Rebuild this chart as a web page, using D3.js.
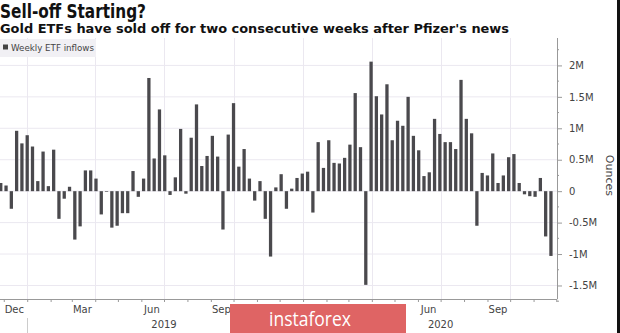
<!DOCTYPE html>
<html><head><meta charset="utf-8">
<script src="https://cdn.jsdelivr.net/npm/d3@7"></script>
<style>body{margin:0;background:#fff}svg{display:block}</style>
</head><body>
<svg id="c" width="620" height="333"></svg>
<script>
const title = "Sell-off Starting?";
const subtitle = "Gold ETFs have sold off for two consecutive weeks after Pfizer's news";
const seriesName = "Weekly ETF inflows";
const axisTitle = "Ounces";
const firstWeek = "2018-11-27";
// weekly inflows, millions of ounces
const inflows = [
  0.13, 0.09, -0.28, 0.96, 0.76, 0.89, 0.71, 0.16, 0.63, 0.08,
  0.66, -0.44, -0.12, 0.07, -0.77, -0.56, 0.33, 0.33, 0.20, -0.37,
  -0.01, -0.58, -0.55, -0.35, -0.35, 0.32, -0.09, 0.20, 1.80, 0.52,
  1.30, 0.57, -0.06, 0.22, 0.99, -0.04, 0.85, 1.38, 0.40, 0.56,
  0.88, 0.55, -0.61, 0.90, 1.40, 0.39, 0.67, 0.20, -0.15, 0.16,
  -0.44, -1.04, 0.06, 0.27, -0.28, 0.04, 0.21, 0.28, 0.31, -0.34,
  0.78, 0.37, 0.81, 0.45, 0.44, 0.53, 0.74, 1.56, 0.70, -1.49,
  2.06, 1.51, 1.22, 1.70, 0.81, 1.12, 1.04, 1.50, 0.88, 0.65,
  0.24, 0.30, 1.15, 0.91, 0.78, 0.78, 0.67, 1.77, 1.15, 0.92,
  -0.55, 0.29, 0.25, 0.60, 0.13, 0.25, 0.54, 0.59, 0.13, -0.05,
  -0.08, -0.09, 0.21, -0.72, -1.03
];
const yTicks = [-1.5, -1, -0.5, 0, 0.5, 1, 1.5, 2];
const yTickLabels = ["-1.5M", "-1M", "-0.5M", "0", "0.5M", "1M", "1.5M", "2M"];
// Dec 2019 and Mar 2020 labels are hidden under the watermark in the reference
const monthLabelDates = ["2018-12-15", "2019-03-15", "2019-06-15", "2019-09-15", "2020-06-15", "2020-09-15"];
const monthLabels = ["Dec", "Mar", "Jun", "Sep", "Jun", "Sep"];
const yearLabelDates = ["2019-07-01", "2020-07-01"];
const yearLabels = ["2019", "2020"];
const watermark = "instaforex";

const parse = d3.timeParse("%Y-%m-%d");
const start = parse(firstWeek);
const data = inflows.map((v, i) => ({date: d3.timeDay.offset(start, 7 * i), value: v}));

const svg = d3.select("#c");
const plotL = 0, plotR = 557, plotT = 38, plotB = 299;

const x = d3.scaleTime().domain([parse("2018-11-26"), parse("2020-12-02")]).range([plotL, plotR]);
const y = d3.scaleLinear().domain([-1.715, 2.436]).range([plotB, plotT]);

const font = "'DejaVu Sans', sans-serif";

// Title
svg.append("text").attr("x", 0).attr("y", 18).text(title)
  .attr("font-family", font).attr("font-weight", "bold").attr("font-size", 19)
  .attr("fill", "#111").attr("textLength", 146).attr("lengthAdjust", "spacingAndGlyphs");
svg.append("text").attr("x", 0).attr("y", 33).text(subtitle)
  .attr("font-family", font).attr("font-weight", "bold").attr("font-size", 13)
  .attr("fill", "#111").attr("textLength", 509).attr("lengthAdjust", "spacingAndGlyphs");

// Grid
const grid = svg.append("g");
grid.selectAll("line.h").data(yTicks).join("line")
  .attr("x1", plotL).attr("x2", plotR).attr("y1", d => y(d)).attr("y2", d => y(d))
  .attr("stroke", "#ebe8f0").attr("stroke-width", 1);
const quarters = d3.timeMonth.every(3).range(x.domain()[0], x.domain()[1]);
grid.selectAll("line.v").data(quarters).join("line")
  .attr("x1", d => Math.round(x(d)) + 0.5).attr("x2", d => Math.round(x(d)) + 0.5)
  .attr("y1", plotT).attr("y2", plotB)
  .attr("stroke", "#ebe8f0").attr("stroke-width", 1);

// Legend
svg.append("rect").attr("x", 0).attr("y", 39).attr("width", 96).attr("height", 18).attr("fill", "#f1f0f4");
svg.append("rect").attr("x", 3).attr("y", 44.5).attr("width", 5).attr("height", 5).attr("fill", "#444");
svg.append("text").attr("x", 11).attr("y", 51).text(seriesName)
  .attr("font-family", font).attr("font-size", 9).attr("fill", "#444")
  .attr("textLength", 83).attr("lengthAdjust", "spacingAndGlyphs");

// Bars
const step = x(d3.timeDay.offset(start, 7)) - x(start);
const bw = step * 0.62;
svg.append("clipPath").attr("id", "clip").append("rect")
  .attr("x", plotL).attr("y", 0).attr("width", plotR - plotL).attr("height", 333);
svg.append("g").attr("clip-path", "url(#clip)").selectAll("rect").data(data).join("rect")
  .attr("x", d => x(d.date) - bw / 2).attr("width", bw)
  .attr("y", d => y(Math.max(0, d.value))).attr("height", d => Math.abs(y(d.value) - y(0)))
  .attr("fill", "#4a494d");

// Right axis
const yAxis = d3.axisRight(y).tickValues(yTicks).tickFormat((d, i) => yTickLabels[i]).tickSize(5).tickPadding(7);
const ga = svg.append("g").attr("transform", `translate(${plotR},0)`).call(yAxis);
ga.select(".domain").attr("stroke", "#999").attr("d", `M0.5,${plotT}V${plotB}`);
ga.selectAll(".tick line").attr("stroke", "#999");
ga.selectAll(".tick text").attr("font-family", font).attr("font-size", 10).attr("fill", "#444");
const minor = d3.range(-1.75, 2.5, 0.25).filter(v => !yTicks.includes(v));
ga.selectAll("line.minor").data(minor).join("line")
  .attr("x1", 0).attr("x2", 2).attr("y1", d => y(d)).attr("y2", d => y(d)).attr("stroke", "#999");
svg.append("text").text(axisTitle)
  .attr("transform", `translate(606,${y(0.25)}) rotate(90)`).attr("text-anchor", "middle")
  .attr("font-family", font).attr("font-size", 11).attr("fill", "#444");

// Bottom axis
const months = d3.timeMonth.range(x.domain()[0], x.domain()[1]);
const xAxis = d3.axisBottom(x).tickValues(months).tickFormat("").tickSize(3);
const gx = svg.append("g").attr("transform", `translate(0,${plotB})`).call(xAxis);
gx.select(".domain").attr("stroke", "#999").attr("d", `M${plotL},0.5H${plotR}`);
gx.selectAll(".tick line").attr("stroke", "#999");
svg.selectAll("text.month").data(monthLabels).join("text")
  .attr("x", (d, i) => x(parse(monthLabelDates[i]))).attr("y", 313).attr("text-anchor", "middle")
  .text(d => d).attr("font-family", font).attr("font-size", 10).attr("fill", "#444");
svg.selectAll("text.year").data(yearLabels).join("text")
  .attr("x", (d, i) => x(parse(yearLabelDates[i]))).attr("y", 328).attr("text-anchor", "middle")
  .text(d => d).attr("font-family", font).attr("font-size", 10).attr("fill", "#444");
const years = d3.timeYear.range(x.domain()[0], x.domain()[1]);
svg.selectAll("line.ysep").data(years).join("line")
  .attr("x1", d => Math.round(x(d)) + 0.5).attr("x2", d => Math.round(x(d)) + 0.5)
  .attr("y1", 318).attr("y2", 333).attr("stroke", "#ccc");

// Right dark edge
svg.append("rect").attr("x", 617).attr("y", 0).attr("width", 3).attr("height", 333).attr("fill", "#111");

// Watermark
const wm = svg.append("g");
wm.append("rect").attr("x", 230).attr("y", 304).attr("width", 176).attr("height", 29).attr("fill", "#df6464");
wm.append("text").attr("x", 310).attr("y", 326).attr("text-anchor", "middle").text(watermark)
  .attr("font-family", "'Open Sans', sans-serif").attr("font-size", 20).attr("fill", "#fff")
  .attr("textLength", 82).attr("lengthAdjust", "spacingAndGlyphs");
</script>
</body></html>
